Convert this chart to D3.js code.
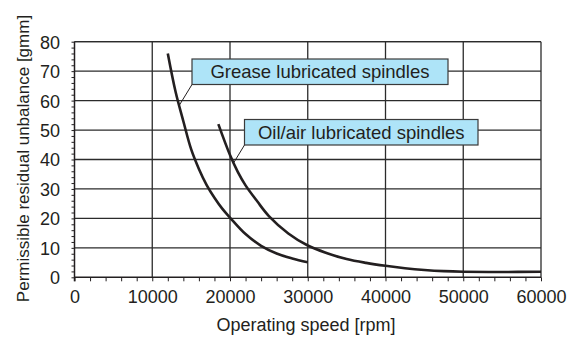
<!DOCTYPE html>
<html>
<head>
<meta charset="utf-8">
<script src="https://cdn.jsdelivr.net/npm/d3@7"></script>
<style>
  html, body { margin: 0; padding: 0; background: #fff; }
  svg { display: block; }
  text { font-family: "Liberation Sans", Arial, sans-serif; fill: #231f20; }
</style>
</head>
<body>
<svg id="chart" width="572" height="338"></svg>
<script>
// Operating speed [rpm] vs permissible residual unbalance [gmm]
const xTicks = [0, 10000, 20000, 30000, 40000, 50000, 60000];
const yTicks = [0, 10, 20, 30, 40, 50, 60, 70, 80];

const greaseSpeed = [12000, 13000, 14000, 15000, 16000, 17000, 18000, 19000, 20000, 22000, 24000, 26000, 28000, 30000];
const greaseUnbalance = [76, 63, 53, 43.5, 36.8, 31.3, 27, 23.3, 20.3, 14.7, 10.7, 8.1, 6.4, 5.1];

const oilSpeed = [18500, 20000, 21000, 22000, 23500, 25000, 27500, 30000, 32500, 35000, 37500, 40000, 42500, 45000, 47500, 50000, 55000, 60000];
const oilUnbalance = [52, 41.5, 35.8, 31.2, 25.8, 20.8, 14.9, 10.8, 8.2, 6.2, 4.9, 3.9, 3.1, 2.5, 2.1, 1.9, 1.8, 1.9];

const labels = ["Grease lubricated spindles", "Oil/air lubricated spindles"];

const svg = d3.select("#chart");
const ink = "#231f20";
const grid = "#2b2b2b";
const font = "'Liberation Sans', Arial, sans-serif";

const x = d3.scaleLinear().domain([0, 60000]).range([74.5, 541]);
const y = d3.scaleLinear().domain([0, 80]).range([277.3, 41.7]);

// grid
const g = svg.append("g");
g.selectAll(".vg").data(xTicks.slice(1)).join("line")
  .attr("x1", d => x(d)).attr("x2", d => x(d))
  .attr("y1", y(80)).attr("y2", y(0))
  .attr("stroke", grid).attr("stroke-width", 1.3);
g.selectAll(".hg").data(yTicks.slice(1)).join("line")
  .attr("x1", x(0)).attr("x2", x(60000))
  .attr("y1", d => y(d)).attr("y2", d => y(d))
  .attr("stroke", grid).attr("stroke-width", 1.3);

// x axis with minor ticks every 2000
const xAxis = d3.axisBottom(x)
  .tickValues(d3.range(0, 60001, 2000))
  .tickSize(4)
  .tickFormat(d => xTicks.includes(d) ? d : "");
const xa = svg.append("g").attr("transform", `translate(0,${y(0)})`).call(xAxis);
xa.select(".domain").attr("stroke", ink).attr("stroke-width", 1.5).attr("d", `M${x(0)},0H${x(60000)}`);
xa.selectAll(".tick line").attr("stroke", ink).attr("stroke-width", 1);
xa.selectAll(".tick text").attr("font-size", 18).attr("dy", 0).attr("y", 26)
  .style("font-family", font).attr("fill", ink);

// y axis with minor ticks every 2
const yAxis = d3.axisLeft(y)
  .tickValues(d3.range(0, 81, 2))
  .tickSize(3)
  .tickFormat(d => yTicks.includes(d) ? d : "");
const ya = svg.append("g").attr("transform", `translate(${x(0)},0)`).call(yAxis);
ya.select(".domain").attr("stroke", ink).attr("stroke-width", 1.5).attr("d", `M0,${y(80)}V${y(0) + 4}`);
ya.selectAll(".tick line").attr("stroke", ink).attr("stroke-width", 1);
ya.selectAll(".tick text").attr("font-size", 18).attr("x", -14.5).attr("dy", "0.36em")
  .style("font-family", font).attr("fill", ink);

// frame top
svg.append("line").attr("x1", x(0)).attr("x2", x(60000)).attr("y1", y(80)).attr("y2", y(80))
  .attr("stroke", grid).attr("stroke-width", 1.3);

// curves
const line = d3.line().x(d => x(d[0])).y(d => y(d[1])).curve(d3.curveCatmullRom.alpha(0.5));
const grease = greaseSpeed.map((s, i) => [s, greaseUnbalance[i]]);
const oil = oilSpeed.map((s, i) => [s, oilUnbalance[i]]);
[grease, oil].forEach(data => {
  svg.append("path").datum(data).attr("d", line)
    .attr("fill", "none").attr("stroke", ink).attr("stroke-width", 2.6);
});

// callouts
const callouts = [
  { text: labels[0], x0: 192, y0: 59, x1: 448, y1: 84.5, at: [13500, 58.5] },
  { text: labels[1], x0: 244.5, y0: 119.5, x1: 478, y1: 145, at: [20500, 39] }
];
callouts.forEach(c => {
  svg.append("line")
    .attr("x1", c.x0).attr("y1", c.y1)
    .attr("x2", x(c.at[0])).attr("y2", y(c.at[1]))
    .attr("stroke", ink).attr("stroke-width", 1);
  svg.append("rect")
    .attr("x", c.x0).attr("y", c.y0)
    .attr("width", c.x1 - c.x0).attr("height", c.y1 - c.y0)
    .attr("fill", "#aee4f8").attr("stroke", "#3a3a3a").attr("stroke-width", 1.2);
  svg.append("text")
    .attr("x", (c.x0 + c.x1) / 2).attr("y", (c.y0 + c.y1) / 2)
    .attr("dy", "0.36em").attr("text-anchor", "middle")
    .attr("font-size", 18.5).text(c.text);
});

// axis titles
svg.append("text").attr("x", 306).attr("y", 331).attr("text-anchor", "middle")
  .attr("font-size", 18).text("Operating speed [rpm]");
svg.append("text").attr("transform", "translate(29,158.5) rotate(-90)")
  .attr("text-anchor", "middle")
  .attr("font-size", 17).text("Permissible residual unbalance [gmm]");
</script>
</body>
</html>
